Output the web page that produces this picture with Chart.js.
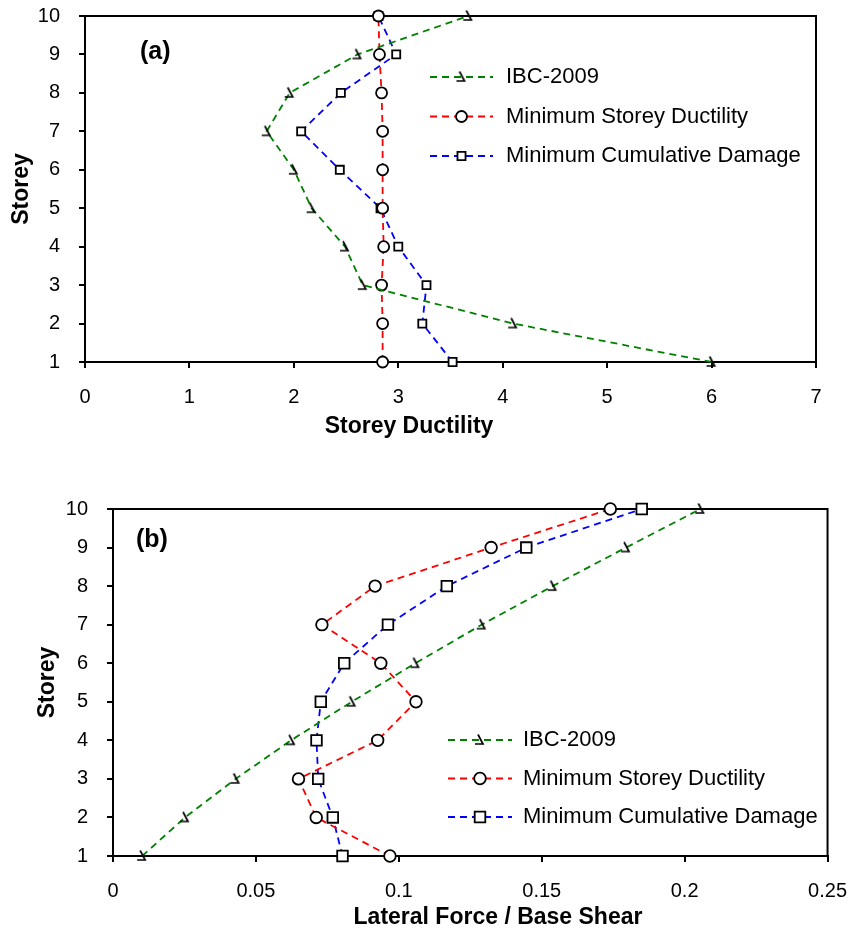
<!DOCTYPE html>
<html>
<head>
<meta charset="utf-8">
<script src="https://cdn.jsdelivr.net/npm/chart.js@4.4.0/dist/chart.umd.min.js"></script>
<style>
  html, body { margin: 0; padding: 0; background: #fff; }
  .panel { position: absolute; left: 0; width: 864px; }
  #panelA { top: 0; height: 445px; }
  #panelB { top: 470px; height: 464px; }
</style>
</head>
<body>
<div class="panel" id="panelA"><canvas id="chartA" width="864" height="445"></canvas></div>
<div class="panel" id="panelB"><canvas id="chartB" width="864" height="464"></canvas></div>
<script>
const storeys = [1, 2, 3, 4, 5, 6, 7, 8, 9, 10];
const seriesNames = ['IBC-2009', 'Minimum Storey Ductility', 'Minimum Cumulative Damage'];

// (a) storey ductility
const ductIBC = [6.0, 4.10, 2.66, 2.49, 2.17, 2.0, 1.74, 1.96, 2.61, 3.67];
const ductMinDuct = [2.85, 2.85, 2.84, 2.86, 2.85, 2.85, 2.85, 2.84, 2.82, 2.81];
const ductMinDamage = [3.52, 3.23, 3.27, 3.0, 2.83, 2.44, 2.07, 2.45, 2.98, 2.81];

// (b) lateral force / base shear
const forceIBC = [0.0102, 0.0252, 0.0429, 0.0623, 0.0835, 0.1058, 0.129, 0.1538, 0.1795, 0.2055];
const forceMinDuct = [0.0969, 0.0711, 0.0649, 0.0926, 0.106, 0.0937, 0.0731, 0.0917, 0.1323, 0.174];
const forceMinDamage = [0.0803, 0.0769, 0.0718, 0.0712, 0.0727, 0.0809, 0.0962, 0.1168, 0.1446, 0.185];

const colors = ['#008000', '#ff0000', '#0000ff'];

Chart.defaults.font.family = '"Liberation Sans", Arial, sans-serif';
Chart.defaults.color = '#000';

// the odd half-triangle marker used for IBC-2009
function makeIbcMarker() {
  const c = document.createElement('canvas');
  c.width = 16; c.height = 16;
  const g = c.getContext('2d');
  g.strokeStyle = '#000';
  g.lineWidth = 1.7;
  g.beginPath();
  g.moveTo(6, 2.5);
  g.lineTo(11, 12);
  g.lineTo(3, 12);
  g.stroke();
  return c;
}
const ibcMarker = makeIbcMarker();

function points(xs) {
  return xs.map((v, i) => ({ x: v, y: storeys[i] }));
}

function dataset(i, xs, radius) {
  const styles = [ibcMarker, 'circle', 'rect'];
  return {
    label: seriesNames[i],
    data: points(xs),
    showLine: true,
    borderColor: colors[i],
    borderWidth: 1.8,
    borderDash: [7, 5],
    pointStyle: styles[i],
    pointRadius: radius[i],
    pointBorderColor: '#000',
    pointBackgroundColor: '#fff',
    pointBorderWidth: 1.8,
    clip: false
  };
}

const insideLegend = {
  id: 'insideLegend',
  afterDatasetsDraw(chart, args, opts) {
    const ctx = chart.ctx;
    ctx.save();
    chart.data.datasets.forEach((ds, i) => {
      const y = opts.y0 + i * opts.gap;
      ctx.strokeStyle = ds.borderColor;
      ctx.lineWidth = ds.borderWidth;
      ctx.setLineDash(ds.borderDash);
      ctx.beginPath();
      ctx.moveTo(opts.x0, y);
      ctx.lineTo(opts.x1, y);
      ctx.stroke();
      ctx.setLineDash([]);
      ctx.fillStyle = '#fff';
      ctx.strokeStyle = '#000';
      ctx.lineWidth = ds.pointBorderWidth;
      Chart.helpers.drawPoint(ctx, {
        pointStyle: ds.pointStyle, radius: ds.pointRadius,
        borderWidth: ds.pointBorderWidth, rotation: 0
      }, (opts.x0 + opts.x1) / 2, y);
      ctx.fillStyle = '#000';
      ctx.font = opts.font;
      ctx.textAlign = 'left';
      ctx.textBaseline = 'middle';
      ctx.fillText(ds.label, opts.textX, y);
    });
    ctx.restore();
  }
};

const frameAndCaptions = {
  id: 'frameAndCaptions',
  beforeDatasetsDraw(chart) {
    const { ctx, chartArea: a } = chart;
    ctx.save();
    ctx.strokeStyle = '#000';
    ctx.lineWidth = 2;
    ctx.beginPath();
    ctx.moveTo(a.left, a.top);
    ctx.lineTo(a.right, a.top);
    ctx.lineTo(a.right, a.bottom);
    ctx.stroke();
    ctx.restore();
  },
  afterDraw(chart, args, opts) {
    const ctx = chart.ctx;
    ctx.save();
    ctx.fillStyle = '#000';
    (opts.texts || []).forEach(t => {
      ctx.font = t.font;
      ctx.textAlign = t.align;
      ctx.textBaseline = 'middle';
      ctx.fillText(t.text, t.x, t.y);
    });
    ctx.restore();
  }
};

function axisCommon() {
  return {
    type: 'linear',
    ticks: { color: '#000', font: { size: 20 } },
    grid: { display: true, drawOnChartArea: false, drawTicks: true, tickLength: 6, color: '#000', lineWidth: 2 },
    border: { display: true, color: '#000', width: 2 }
  };
}

function makeChart(id, o) {
  const x = axisCommon();
  x.min = o.xMin; x.max = o.xMax;
  x.ticks.stepSize = o.xStep;
  x.ticks.padding = 17;
  x.ticks.callback = v => String(parseFloat(Number(v).toFixed(3)));
  x.afterFit = s => { s.height = o.xHeight; };

  const y = axisCommon();
  y.min = 1; y.max = 10;
  y.ticks.stepSize = 1;
  y.ticks.padding = 19;
  y.title = { display: true, text: 'Storey', font: { size: 23, weight: 'bold' }, padding: { top: o.yTitlePad, bottom: 0 } };
  y.afterFit = s => {
    s.width = o.yWidth;
    s.paddingTop = 0;
    s.paddingBottom = 0;
  };

  return new Chart(document.getElementById(id), {
    type: 'scatter',
    data: { datasets: o.datasets },
    options: {
      responsive: false,
      animation: false,
      layout: { padding: { top: o.padTop, right: o.padRight, left: 0, bottom: 0 } },
      scales: { x: x, y: y },
      plugins: {
        legend: { display: false },
        tooltip: { enabled: false },
        insideLegend: o.legend,
        frameAndCaptions: { texts: o.texts }
      }
    },
    plugins: [frameAndCaptions, insideLegend]
  });
}

makeChart('chartA', {
  xMin: 0, xMax: 7, xStep: 1,
  xHeight: 83, yWidth: 85, yTitlePad: 8,
  padTop: 16, padRight: 48,
  datasets: [
    dataset(0, ductIBC, [8, 5.5, 5.7]),
    dataset(1, ductMinDuct, [8, 5.5, 5.7]),
    dataset(2, ductMinDamage, [8, 5.5, 5.7])
  ],
  legend: { x0: 430, x1: 493, textX: 506, y0: 77, gap: 39.5, font: '22px "Liberation Sans", Arial, sans-serif' },
  texts: [
    { text: '(a)', x: 140, y: 52, align: 'left', font: 'bold 25px "Liberation Sans", Arial, sans-serif' },
    { text: 'Storey Ductility', x: 409, y: 427, align: 'center', font: 'bold 23px "Liberation Sans", Arial, sans-serif' }
  ]
});

makeChart('chartB', {
  xMin: 0, xMax: 0.25, xStep: 0.05,
  xHeight: 78, yWidth: 113, yTitlePad: 34,
  padTop: 39, padRight: 21,
  datasets: [
    dataset(0, forceIBC, [8, 5.8, 7.5]),
    dataset(1, forceMinDuct, [8, 5.8, 7.5]),
    dataset(2, forceMinDamage, [8, 5.8, 7.5])
  ],
  legend: { x0: 448, x1: 512, textX: 523, y0: 270, gap: 38.5, font: '22px "Liberation Sans", Arial, sans-serif' },
  texts: [
    { text: '(b)', x: 136, y: 70, align: 'left', font: 'bold 25px "Liberation Sans", Arial, sans-serif' },
    { text: 'Lateral Force / Base Shear', x: 498, y: 448, align: 'center', font: 'bold 23px "Liberation Sans", Arial, sans-serif' }
  ]
});
</script>
</body>
</html>
